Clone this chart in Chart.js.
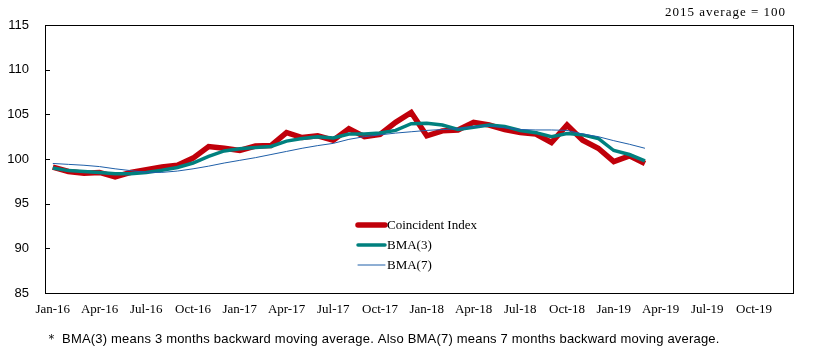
<!DOCTYPE html>
<html>
<head>
<meta charset="utf-8">
<script src="https://cdn.jsdelivr.net/npm/chart.js@4.4.1/dist/chart.umd.min.js"></script>
<style>
  html, body { margin: 0; padding: 0; background: #fff; }
  #wrap { width: 819px; height: 352px; position: relative; }
</style>
</head>
<body>
<div id="wrap"><canvas id="c" width="819" height="352"></canvas></div>
<script>
const months = [
  'Jan-16','Feb-16','Mar-16','Apr-16','May-16','Jun-16','Jul-16','Aug-16','Sep-16','Oct-16','Nov-16','Dec-16',
  'Jan-17','Feb-17','Mar-17','Apr-17','May-17','Jun-17','Jul-17','Aug-17','Sep-17','Oct-17','Nov-17','Dec-17',
  'Jan-18','Feb-18','Mar-18','Apr-18','May-18','Jun-18','Jul-18','Aug-18','Sep-18','Oct-18','Nov-18','Dec-18',
  'Jan-19','Feb-19','Mar-19','Apr-19','May-19','Jun-19','Jul-19','Aug-19','Sep-19','Oct-19','Nov-19','Dec-19'
];

// Coincident index, Jan-16 .. Mar-19
const coincident = [
  99.1, 98.6, 98.4, 98.5, 98.0, 98.5, 98.8, 99.1, 99.3, 100.1, 101.4, 101.2,
  100.95, 101.45, 101.5, 102.95, 102.4, 102.6, 102.1, 103.4, 102.5, 102.75, 104.1, 105.2,
  102.6, 103.15, 103.25, 104.1, 103.8, 103.3, 102.95, 102.8, 101.85, 103.8, 102.1, 101.2,
  99.7, 100.35, 99.5
];
const bma3 = [
  99.0, 98.7, 98.6, 98.5, 98.35, 98.35, 98.5, 98.75, 99.05, 99.55, 100.3, 100.9,
  101.15, 101.3, 101.4, 102.0, 102.3, 102.5, 102.35, 102.8, 102.8, 102.9, 103.2, 103.95,
  104.0, 103.8, 103.3, 103.55, 103.8, 103.65, 103.2, 102.95, 102.5, 102.85, 102.7, 102.3,
  100.95, 100.5, 99.8
];
const bma7 = [
  99.5, 99.4, 99.3, 99.15, 98.9, 98.7, 98.5, 98.5, 98.65, 98.9, 99.2, 99.55,
  99.85, 100.15, 100.5, 100.85, 101.2, 101.5, 101.75, 102.2, 102.5, 102.7, 102.9, 103.05,
  103.2, 103.3, 103.4, 103.6, 103.75, 103.5, 103.3, 103.25, 103.25, 103.2, 102.8, 102.5,
  102.05, 101.65, 101.2
];
const yTicks = [85, 90, 95, 100, 105, 110, 115];

const seriesNames = ['Coincident Index', 'BMA(3)', 'BMA(7)'];
const seriesColors = ['#C0000A', '#00807E', '#1F5FA8'];
const seriesWidths = [5.5, 3.5, 1];

const footnote = '＊ BMA(3) means 3 months backward moving average. Also BMA(7) means 7 months backward moving average.';

const extras = {
  id: 'extras',
  afterDraw(chart) {
    const { ctx, chartArea: a, scales: { y } } = chart;
    ctx.save();
    ctx.strokeStyle = '#000';
    ctx.lineWidth = 1;
    ctx.strokeRect(Math.round(a.left) + 0.5, Math.round(a.top) + 0.5,
      Math.round(a.right - a.left), Math.round(a.bottom - a.top));
    ctx.beginPath();
    yTicks.forEach(v => {
      const py = Math.round(y.getPixelForValue(v)) + 0.5;
      ctx.moveTo(a.left, py);
      ctx.lineTo(a.left + 5, py);
    });
    ctx.stroke();

    // legend inside the plot
    ctx.font = '13px "Liberation Serif", serif';
    ctx.textBaseline = 'middle';
    ctx.fillStyle = '#000';
    seriesNames.forEach((name, i) => {
      const ly = 225 + i * 20;
      ctx.beginPath();
      ctx.strokeStyle = seriesColors[i];
      ctx.lineWidth = seriesWidths[i];
      ctx.lineCap = 'round';
      ctx.moveTo(358, ly);
      ctx.lineTo(385, ly);
      ctx.stroke();
      ctx.fillText(name, 387, ly + 1);
    });

    // note top right
    ctx.textAlign = 'right';
    ctx.font = '13px "Liberation Serif", serif';
    ctx.letterSpacing = '1px';
    ctx.fillText('2015 average = 100', 786, 13);

    // footnote, stretched to the reference width
    ctx.textAlign = 'left';
    ctx.font = '13px "Liberation Sans", sans-serif';
    ctx.letterSpacing = '0px';
    const w = ctx.measureText(footnote).width;
    ctx.letterSpacing = ((674 - w) / (footnote.length - 1)).toFixed(2) + 'px';
    ctx.fillText(footnote, 45, 339);
    ctx.restore();
  }
};

new Chart(document.getElementById('c'), {
  type: 'line',
  data: {
    labels: months,
    datasets: [coincident, bma3, bma7].map((d, i) => ({
      label: seriesNames[i],
      data: d,
      borderColor: seriesColors[i],
      borderWidth: seriesWidths[i],
      pointRadius: 0,
      tension: 0,
      fill: false,
      order: 3 - i
    }))
  },
  options: {
    responsive: false,
    animation: false,
    devicePixelRatio: 1,
    layout: { padding: { top: 25, right: 26, bottom: 0, left: 0 } },
    plugins: {
      legend: { display: false },
      tooltip: { enabled: false }
    },
    scales: {
      x: {
        type: 'category',
        offset: true,
        grid: { display: false, drawTicks: false },
        border: { display: false },
        ticks: {
          autoSkip: false,
          maxRotation: 0,
          padding: 9,
          color: '#000',
          font: { family: '"Liberation Serif", serif', size: 13 },
          callback: (v, i) => (i % 3 === 0 ? months[i] : '')
        },
        afterFit: s => { s.height = 59; }
      },
      y: {
        min: 85,
        max: 115,
        grid: { display: false, drawTicks: false },
        border: { display: false },
        ticks: {
          stepSize: 5,
          padding: 16,
          color: '#000',
          font: { family: '"Liberation Sans", sans-serif', size: 13 }
        },
        afterFit: s => { s.width = 45; }
      }
    }
  },
  plugins: [extras]
});
</script>
</body>
</html>
